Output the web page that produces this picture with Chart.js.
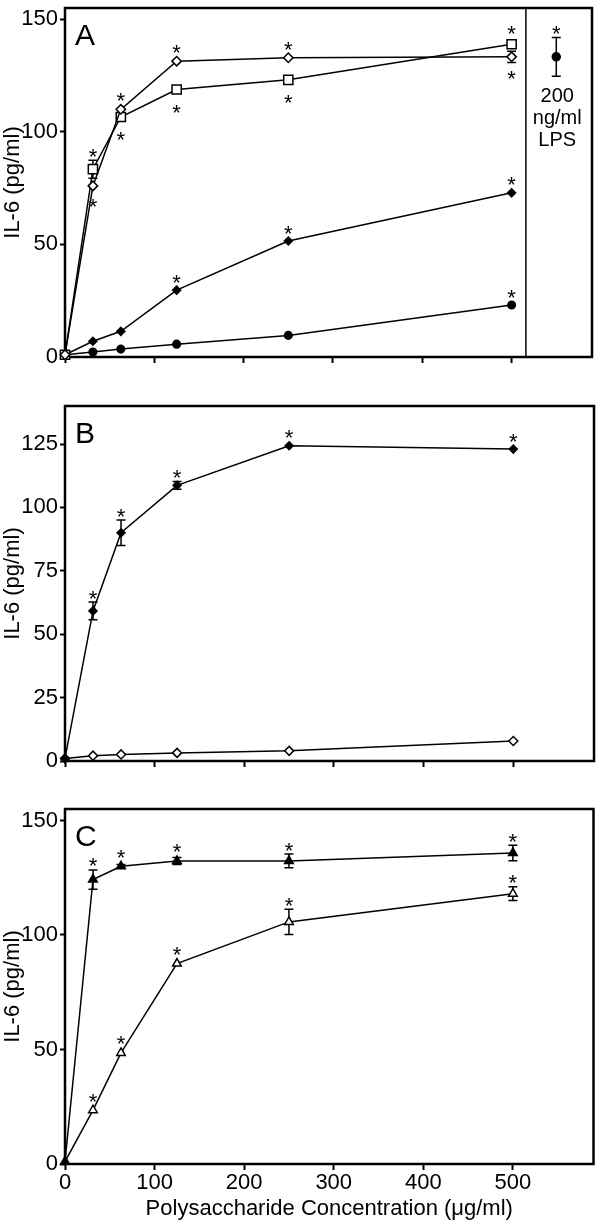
<!DOCTYPE html>
<html>
<head>
<meta charset="utf-8">
<script src="https://cdn.jsdelivr.net/npm/chart.js@4.4.1/dist/chart.umd.min.js"></script>
<style>
  html, body { margin: 0; padding: 0; background: #fff; }
  canvas { display: block; }
</style>
</head>
<body>
<canvas id="panelA" width="600" height="390"></canvas>
<canvas id="panelB" width="600" height="400"></canvas>
<canvas id="panelC" width="600" height="434"></canvas>
<script>
// concentrations (ug/ml) and axis ticks
const conc = [0, 31.25, 62.5, 125, 250, 500];
const xTicks = [0, 100, 200, 300, 400, 500];
const yTicksA = [0, 50, 100, 150];
const yTicksB = [0, 25, 50, 75, 100, 125];
const yTicksC = [0, 50, 100, 150];

// panel A (sig: 1 = star above, -1 = star below)
const aOpenDiamond = [1, 76, 110, 131.4, 132.9, 133.3];
const aOpenDiamondErr = [0, 0, 0, 0, 0, 2.5];
const aOpenDiamondSig = [0, -1, 1, 1, 1, -1];
const aOpenSquare = [1, 83.4, 106.6, 118.8, 123.1, 138.9];
const aOpenSquareErr = [0, 4, 0, 0, 0, 0];
const aOpenSquareSig = [0, 1, -1, -1, -1, 1];
const aFilledDiamond = [1, 7, 11.4, 29.7, 51.5, 72.9];
const aFilledDiamondSig = [0, 0, 0, 1, 1, 1];
const aFilledCircle = [1, 2.2, 3.5, 5.7, 9.6, 23.1];
const aFilledCircleSig = [0, 0, 0, 0, 0, 1];
const lpsX = [550];
const lpsY = [133.3];
const lpsErr = [8.6];
const lpsSig = [1];
const lpsLabel = ['200', 'ng/ml', 'LPS'];
const aDivider = 516;

// panel B
const bFilledDiamond = [1, 59.2, 90, 108.7, 124.3, 123];
const bFilledDiamondErr = [0, 3.5, 5, 1.5, 0, 0];
const bFilledDiamondSig = [0, 1, 1, 1, 1, 1];
const bOpenDiamond = [1, 2.1, 2.6, 3.2, 4, 7.9];

// panel C
const cFilledTriangle = [1, 124.2, 130, 132.3, 132.3, 135.8];
const cFilledTriangleErr = [0, 4.2, 0.8, 1.5, 3, 3.4];
const cFilledTriangleSig = [0, 1, 1, 1, 1, 1];
const cOpenTriangle = [1, 23.5, 48.5, 87.5, 105.7, 118];
const cOpenTriangleErr = [0, 0, 0, 0, 5.5, 3];
const cOpenTriangleSig = [0, 1, 1, 1, 1, 1];

const family = '"Liberation Sans", Arial, Helvetica, sans-serif';

function series(xs, ys, style, radius, fill, err, sig, line = true) {
    return {
        data: xs.map((x, i) => ({ x: x, y: ys[i] })),
        showLine: line,
        borderColor: '#000',
        borderWidth: 1.5,
        pointStyle: style,
        pointRadius: radius,
        pointBackgroundColor: fill,
        pointBorderColor: '#000',
        pointBorderWidth: 1.5,
        clip: false,
        err: err,
        sig: sig
    };
}

// frame, error bars, asterisks, labels
const extras = {
    id: 'extras',
    beforeDatasetsDraw(chart, args, opts) {
        const { ctx, chartArea: a, scales: { x, y } } = chart;
        ctx.save();
        ctx.strokeStyle = '#000';
        ctx.lineWidth = 2.5;
        ctx.strokeRect(a.left, a.top, a.right - a.left, a.bottom - a.top);
        if (opts.divider != null) {
            const dx = x.getPixelForValue(opts.divider);
            ctx.lineWidth = 1.5;
            ctx.beginPath();
            ctx.moveTo(dx, a.top);
            ctx.lineTo(dx, a.bottom);
            ctx.stroke();
        }
        ctx.lineWidth = 1.5;
        chart.data.datasets.forEach(ds => {
            if (!ds.err) return;
            ds.data.forEach((p, i) => {
                const e = ds.err[i];
                if (!e) return;
                const px = x.getPixelForValue(p.x);
                const top = y.getPixelForValue(p.y + e);
                const bot = y.getPixelForValue(p.y - e);
                ctx.beginPath();
                ctx.moveTo(px, top); ctx.lineTo(px, bot);
                ctx.moveTo(px - 4.5, top); ctx.lineTo(px + 4.5, top);
                ctx.moveTo(px - 4.5, bot); ctx.lineTo(px + 4.5, bot);
                ctx.stroke();
            });
        });
        ctx.restore();
    },
    afterDatasetsDraw(chart, args, opts) {
        const { ctx, chartArea: a, scales: { x, y } } = chart;
        ctx.save();
        ctx.fillStyle = '#000';
        ctx.textAlign = 'center';
        ctx.textBaseline = 'alphabetic';
        ctx.font = '22px ' + family;
        chart.data.datasets.forEach(ds => {
            if (!ds.sig) return;
            ds.data.forEach((p, i) => {
                const s = ds.sig[i];
                if (!s) return;
                const e = ds.err ? ds.err[i] : 0;
                const px = x.getPixelForValue(p.x);
                const py = y.getPixelForValue(p.y);
                let cy;
                if (s > 0) {
                    cy = Math.min(py - ds.pointRadius, y.getPixelForValue(p.y + e)) - 9;
                } else {
                    cy = Math.max(py + ds.pointRadius, y.getPixelForValue(p.y - e)) + 11;
                }
                ctx.fillText('*', px, cy + 12.5);
            });
        });
        if (opts.lps) {
            const px = x.getPixelForValue(lpsX[0]);
            const bot = y.getPixelForValue(lpsY[0] - lpsErr[0]);
            ctx.font = '20px ' + family;
            lpsLabel.forEach((t, i) => ctx.fillText(t, px + 1, bot + 26 + i * 22));
        }
        ctx.textAlign = 'left';
        ctx.font = '30px ' + family;
        ctx.fillText(opts.letter, a.left + 10, a.top + 37);
        ctx.restore();
    }
};

function panel(id, datasets, yMax, yTicks, o) {
    return new Chart(document.getElementById(id), {
        type: 'line',
        data: { datasets: datasets },
        options: {
            responsive: false,
            animation: false,
            events: [],
            layout: { padding: { top: o.top, right: 2, left: 0, bottom: 0 } },
            plugins: {
                legend: { display: false },
                tooltip: { enabled: false },
                extras: { letter: o.letter, divider: o.divider, lps: o.lps }
            },
            scales: {
                x: {
                    type: 'linear',
                    min: 0,
                    max: 590,
                    afterBuildTicks: s => { s.ticks = xTicks.map(v => ({ value: v })); },
                    afterFit: s => { s.height = o.xHeight; s.paddingLeft = 0; s.paddingRight = 0; },
                    border: { display: false },
                    grid: { drawOnChartArea: false, tickLength: 6, tickWidth: 2, color: '#000' },
                    ticks: { display: o.xLabels, color: '#000', font: { family: family, size: 22 }, padding: 0, maxRotation: 0 },
                    title: {
                        display: o.xLabels,
                        text: 'Polysaccharide Concentration (μg/ml)',
                        color: '#000',
                        font: { family: family, size: 22 },
                        padding: { top: 0, bottom: 2 }
                    }
                },
                y: {
                    type: 'linear',
                    min: 0,
                    max: yMax,
                    afterBuildTicks: s => { s.ticks = yTicks.map(v => ({ value: v })); },
                    afterFit: s => { s.width = 65; s.paddingTop = 0; s.paddingBottom = 0; },
                    border: { display: false },
                    grid: { drawOnChartArea: false, tickLength: 5, tickWidth: 2, color: '#000' },
                    ticks: { color: '#000', font: { family: family, size: 22 }, padding: 2 },
                    title: {
                        display: true,
                        text: 'IL-6 (pg/ml)',
                        color: '#000',
                        font: { family: family, size: 22 },
                        padding: 0
                    }
                }
            }
        },
        plugins: [extras]
    });
}

panel('panelA', [
    series(conc, aOpenDiamond, 'rectRot', 4.7, '#fff', aOpenDiamondErr, aOpenDiamondSig),
    series(conc, aOpenSquare, 'rect', 6.5, '#fff', aOpenSquareErr, aOpenSquareSig),
    series(conc, aFilledDiamond, 'rectRot', 4, '#000', null, aFilledDiamondSig),
    series(conc, aFilledCircle, 'circle', 3.8, '#000', null, aFilledCircleSig),
    series(lpsX, lpsY, 'circle', 4, '#000', lpsErr, lpsSig, false)
], 155, yTicksA, { top: 3, xHeight: 33, xLabels: false, letter: 'A', divider: aDivider, lps: true });

panel('panelB', [
    series(conc, bFilledDiamond, 'rectRot', 4, '#000', bFilledDiamondErr, bFilledDiamondSig),
    series(conc, bOpenDiamond, 'rectRot', 4.5, '#fff', null, null)
], 140, yTicksB, { top: 16, xHeight: 29, xLabels: false, letter: 'B' });

panel('panelC', [
    series(conc, cFilledTriangle, 'triangle', 5, '#000', cFilledTriangleErr, cFilledTriangleSig),
    series(conc, cOpenTriangle, 'triangle', 5, '#fff', cOpenTriangleErr, cOpenTriangleSig)
], 155, yTicksC, { top: 19, xHeight: 60, xLabels: true, letter: 'C' });
</script>
</body>
</html>
